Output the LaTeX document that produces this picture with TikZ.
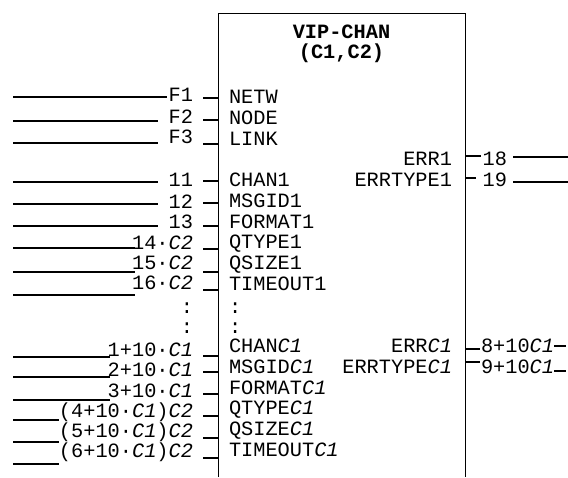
\documentclass[tikz,border=0pt]{standalone}
\usepackage{fontspec}
\setmainfont{Liberation Mono}
\setmonofont{Liberation Mono}
\begin{document}
\begin{tikzpicture}[x=1pt,y=-1pt,
  lbl/.style={inner sep=0pt,outer sep=0pt,font=\fontsize{20.3}{24}\selectfont},
  ttl/.style={inner sep=0pt,outer sep=0pt,font=\fontsize{20.3}{24}\selectfont\bfseries},
  wire/.style={line width=1.6pt},
  boxline/.style={line width=1pt}]
\useasboundingbox (0,0) rectangle (568,477);
% block
\coordinate (bl) at (218,477);
\coordinate (tl) at (218,13);
\coordinate (tr) at (465,13);
\coordinate (br) at (465,477);
\draw[boxline] (bl) -- (tl) -- (tr) -- (br);
\node[ttl] (t1) at (341.5,32) {VIP-CHAN};
\node[ttl] (t2) at (341.5,53) {(C1,C2)};
% inputs inside block
\node[lbl,anchor=base west] (i0) at (229,103.7) {NETW};
\node[lbl,anchor=base west] (i1) at (229,124.45) {NODE};
\node[lbl,anchor=base west] (i2) at (229,145.2) {LINK};
\node[lbl,anchor=base west] (i4) at (229,186.7) {CHAN1};
\node[lbl,anchor=base west] (i5) at (229,207.45) {MSGID1};
\node[lbl,anchor=base west] (i6) at (229,228.2) {FORMAT1};
\node[lbl,anchor=base west] (i7) at (229,248.95) {QTYPE1};
\node[lbl,anchor=base west] (i8) at (229,269.7) {QSIZE1};
\node[lbl,anchor=base west] (i9) at (229,290.45) {TIMEOUT1};
\node[lbl,anchor=base west] (i10) at (229,313) {:};
\node[lbl,anchor=base west] (i11) at (229,333) {:};
\node[lbl,anchor=base west] (i12) at (229,352.7) {CHAN\textit{C1}};
\node[lbl,anchor=base west] (i13) at (229,373.45) {MSGID\textit{C1}};
\node[lbl,anchor=base west] (i14) at (229,394.2) {FORMAT\textit{C1}};
\node[lbl,anchor=base west] (i15) at (229,414.95) {QTYPE\textit{C1}};
\node[lbl,anchor=base west] (i16) at (229,435.7) {QSIZE\textit{C1}};
\node[lbl,anchor=base west] (i17) at (229,456.45) {TIMEOUT\textit{C1}};
% outputs inside block
\node[lbl,anchor=base east] (o3) at (452,165.95) {ERR1};
\node[lbl,anchor=base east] (o4) at (452,186.7) {ERRTYPE1};
\node[lbl,anchor=base east] (o12) at (452,352.7) {ERR\textit{C1}};
\node[lbl,anchor=base east] (o13) at (452,373.45) {ERRTYPE\textit{C1}};
% left labels
\node[lbl,anchor=base east] (l0) at (193,101.7) {F1};
\node[lbl,anchor=base east] (l1) at (193,123.7) {F2};
\node[lbl,anchor=base east] (l2) at (193,143.7) {F3};
\node[lbl,anchor=base east] (l4) at (193,186.7) {11};
\node[lbl,anchor=base east] (l5) at (193,208.7) {12};
\node[lbl,anchor=base east] (l6) at (193,228.7) {13};
\node[lbl,anchor=base east] (l7) at (193,249.7) {14·\textit{C2}};
\node[lbl,anchor=base east] (l8) at (193,269.7) {15·\textit{C2}};
\node[lbl,anchor=base east] (l9) at (193,289.7) {16·\textit{C2}};
\node[lbl,anchor=base east] (l10) at (193,313) {:};
\node[lbl,anchor=base east] (l11) at (193,333) {:};
\node[lbl,anchor=base east] (l12) at (193,356.7) {1+10·\textit{C1}};
\node[lbl,anchor=base east] (l13) at (193,376.7) {2+10·\textit{C1}};
\node[lbl,anchor=base east] (l14) at (193,397.7) {3+10·\textit{C1}};
\node[lbl,anchor=base east] (l15) at (193,417.7) {(4+10·\textit{C1})\textit{C2}};
\node[lbl,anchor=base east] (l16) at (193,437.7) {(5+10·\textit{C1})\textit{C2}};
\node[lbl,anchor=base east] (l17) at (193,457.7) {(6+10·\textit{C1})\textit{C2}};
% right labels
\node[lbl,anchor=base east] (r3) at (507,165.95) {18};
\node[lbl,anchor=base east] (r4) at (507,186.7) {19};
\node[lbl,anchor=base west] (r12) at (481,352.7) {8+10\textit{C1}};
\node[lbl,anchor=base west] (r13) at (481,373.45) {9+10\textit{C1}};
% left long wires
\draw[wire] (13,97) -- (167,97);
\draw[wire] (13,121) -- (158,121);
\draw[wire] (13,143) -- (158,143);
\draw[wire] (13,182) -- (158,182);
\draw[wire] (13,204) -- (158,204);
\draw[wire] (13,226) -- (158,226);
\draw[wire] (13,248) -- (135,248);
\draw[wire] (13,272) -- (135,272);
\draw[wire] (13,295) -- (135,295);
\draw[wire] (13,357) -- (110,357);
\draw[wire] (13,377) -- (110,377);
\draw[wire] (13,400) -- (110,400);
\draw[wire] (13,420) -- (59,420);
\draw[wire] (13,442) -- (59,442);
\draw[wire] (13,464) -- (59,464);
% left stubs
\foreach \y in {98,120,144,181,203,226,249,272,290,356,372,394,416,438,458}
  \draw[wire] (203,\y) -- (218,\y);
% right side
\draw[wire] (466,156) -- (481,156);
\draw[wire] (513,157) -- (568,157);
\draw[wire] (466,178) -- (476,178);
\draw[wire] (513,182) -- (568,182);
\draw[wire] (466,349) -- (480,349);
\draw[wire] (554,346) -- (566,346);
\draw[wire] (466,362) -- (480,362);
\draw[wire] (554,371) -- (566,371);
\end{tikzpicture}
\end{document}
